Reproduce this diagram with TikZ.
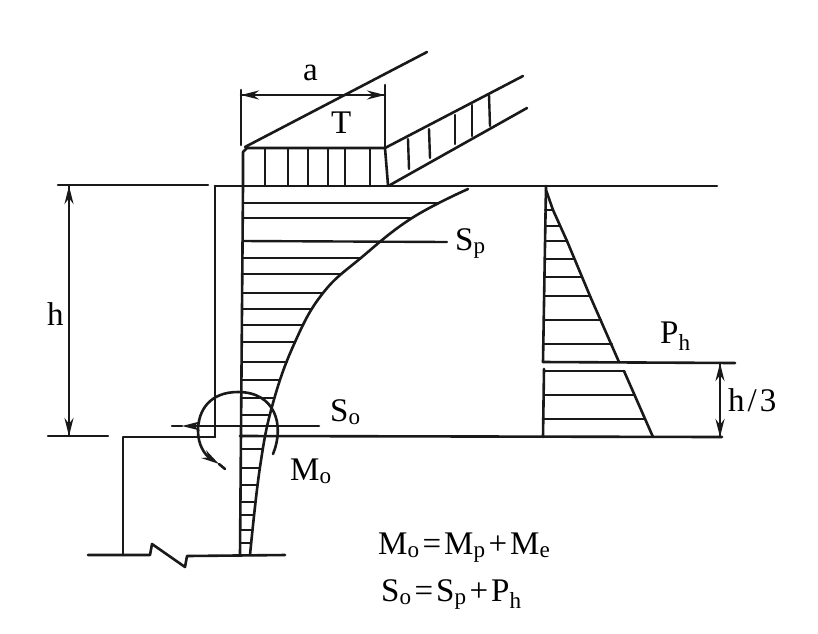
\documentclass[tikz,border=0pt]{standalone}
\usepackage{tikz}
\usepackage{fontspec}
\setmainfont{Liberation Serif}
\usetikzlibrary{arrows.meta}

\tikzset{
  ink/.style={line width=2.6pt,line cap=round,line join=round,black!90},
  hatch/.style={ink,line width=2.4pt},
  dimtip/.style={ink,-{Stealth[length=18pt,width=9pt]}},
  lbl/.style={inner sep=0pt,anchor=base west,font=\fontsize{33}{38}\selectfont}
}

\begin{document}
\begin{tikzpicture}[x=1pt,y=-1pt]
  \useasboundingbox (0,0) rectangle (818,633);

  % labels
  \node[lbl] (a) at (303,80){a};
  \node[lbl] (t) at (331,133){T};
  \node[lbl] (sp) at (455,250){S\textsubscript{p}};
  \node[lbl] (h) at (47,325){h};
  \node[lbl] (ph) at (660,343){P\textsubscript{h}};
  \node[lbl] (hthird) at (728,411){h\kern3pt/\kern3pt3};
  \node[lbl] (so) at (330,421){S\textsubscript{o}};
  \node[lbl] (mo) at (290,480){M\textsubscript{o}};
  \node[lbl] (eqm) at (378,554){M\textsubscript{o}\kern3pt=\kern3ptM\textsubscript{p}\kern3pt+\kern3ptM\textsubscript{e}};
  \node[lbl] (eqs) at (381,601){S\textsubscript{o}\kern3pt=\kern3ptS\textsubscript{p}\kern3pt+\kern3ptP\textsubscript{h}};

  \coordinate (al) at (241,95);
  \coordinate (ar) at (385,95);
  \coordinate (htop) at (69,186);
  \coordinate (hbot) at (69,436);
  \coordinate (tthird) at (720,363);
  \coordinate (bthird) at (720,437);
  \coordinate (soright) at (319,426);
  \coordinate (sotip) at (182,426);
  \coordinate (soleft) at (172,426);
  \coordinate (motip) at (219,464);
  \coordinate (moend) at (225,469);

  % ground, wall and footing
  \draw[ink] (58,185) -- (208,185);
  \draw[ink] (215,186) -- (717,186);
  \draw[ink] (48,436) -- (108,436);
  \draw[ink] (215,437) -- (123,437) -- (123,555);
  \draw[ink] (240,436) -- (722,437);
  \draw[ink] (215,186) -- (215,437);
  \draw[ink] (88,555) -- (150,555) -- (152,544) -- (185,567) -- (187,556) -- (285,555);

  % load on top
  \draw[ink] (245,147) -- (427,52);
  \draw[ink] (243,186) -- (243,152) -- (247,148) -- (385,148) -- (388,185);
  \draw[ink] (385,148) -- (523,76);
  \draw[ink] (390,185) -- (527,108);
  \draw[hatch] (265,148) -- (265,186);
  \draw[hatch] (288,148) -- (288,186);
  \draw[hatch] (308,148) -- (308,186);
  \draw[hatch] (328,148) -- (328,186);
  \draw[hatch] (345,148) -- (345,186);
  \draw[hatch] (370,148) -- (370,186);
  \draw[hatch] (408,139) -- (409,169);
  \draw[hatch] (429,129) -- (430,158);
  \draw[hatch] (455,115) -- (455,144);
  \draw[hatch] (472,105) -- (472,136);
  \draw[hatch] (489,95) -- (490,126);

  % width a
  \draw[ink] (241,90) -- (241,145);
  \draw[ink] (385,85) -- (385,148);
  \draw[dimtip] (ar) -- (al);
  \draw[dimtip] (al) -- (ar);

  % shear curve
  \draw[ink] (243,186) -- (240,555);
  \draw[ink] plot[smooth,tension=0.7] coordinates {(468,189) (412,218) (362,257)
    (323,293) (295,342) (273,403) (260,467) (250,555)};
  \draw[hatch] (243,203) -- (438,203);
  \draw[hatch] (243,218) -- (412,218);
  \draw[hatch] (243,241) -- (447,242);
  \draw[hatch] (243,258) -- (361,258);
  \draw[hatch] (243,274) -- (341,274);
  \draw[hatch] (243,293) -- (323,293);
  \draw[hatch] (243,309) -- (312,309);
  \draw[hatch] (243,325) -- (303,325);
  \draw[hatch] (243,342) -- (295,342);
  \draw[hatch] (242,362) -- (287,362);
  \draw[hatch] (242,380) -- (280,380);
  \draw[hatch] (242,398) -- (274,398);
  \draw[hatch] (242,415) -- (270,415);
  \draw[hatch] (241,449) -- (263,449);
  \draw[hatch] (241,468) -- (259,468);
  \draw[hatch] (241,485) -- (257,485);
  \draw[hatch] (241,502) -- (255,502);
  \draw[hatch] (241,515) -- (254,515);
  \draw[hatch] (241,530) -- (252,530);
  \draw[hatch] (240,543) -- (251,543);

  % resultants at the base
  \draw[dimtip] (soright) -- (sotip);
  \draw[ink] (sotip) -- (soleft);
  \draw[dimtip] (273,454) .. controls (285,425) and (275,392) .. (238,392)
    .. controls (210,392) and (198,410) .. (198,431) .. controls (198,445) and (205,455) .. (motip);
  \draw[ink] (motip) -- (moend);

  % earth pressure
  \draw[ink] (546,186) -- (543,362);
  \draw[ink] (544,369) -- (543,437);
  \draw[ink] (546,190) -- (553,210) -- (567,241) -- (590,296) -- (619,362);
  \draw[ink] (624,371) -- (653,437);
  \draw[ink] (543,362) -- (735,363);
  \draw[hatch] (545,210) -- (553,210);
  \draw[hatch] (545,226) -- (560,226);
  \draw[hatch] (545,241) -- (567,241);
  \draw[hatch] (545,259) -- (574,259);
  \draw[hatch] (545,277) -- (582,277);
  \draw[hatch] (544,296) -- (590,296);
  \draw[hatch] (544,320) -- (601,320);
  \draw[hatch] (544,344) -- (612,344);
  \draw[hatch] (544,371) -- (624,371);
  \draw[hatch] (544,395) -- (633,395);
  \draw[hatch] (544,419) -- (645,419);

  % heights
  \draw[dimtip] (hbot) -- (htop);
  \draw[dimtip] (htop) -- (hbot);
  \draw[dimtip] (bthird) -- (tthird);
  \draw[dimtip] (tthird) -- (bthird);
\end{tikzpicture}
\end{document}
